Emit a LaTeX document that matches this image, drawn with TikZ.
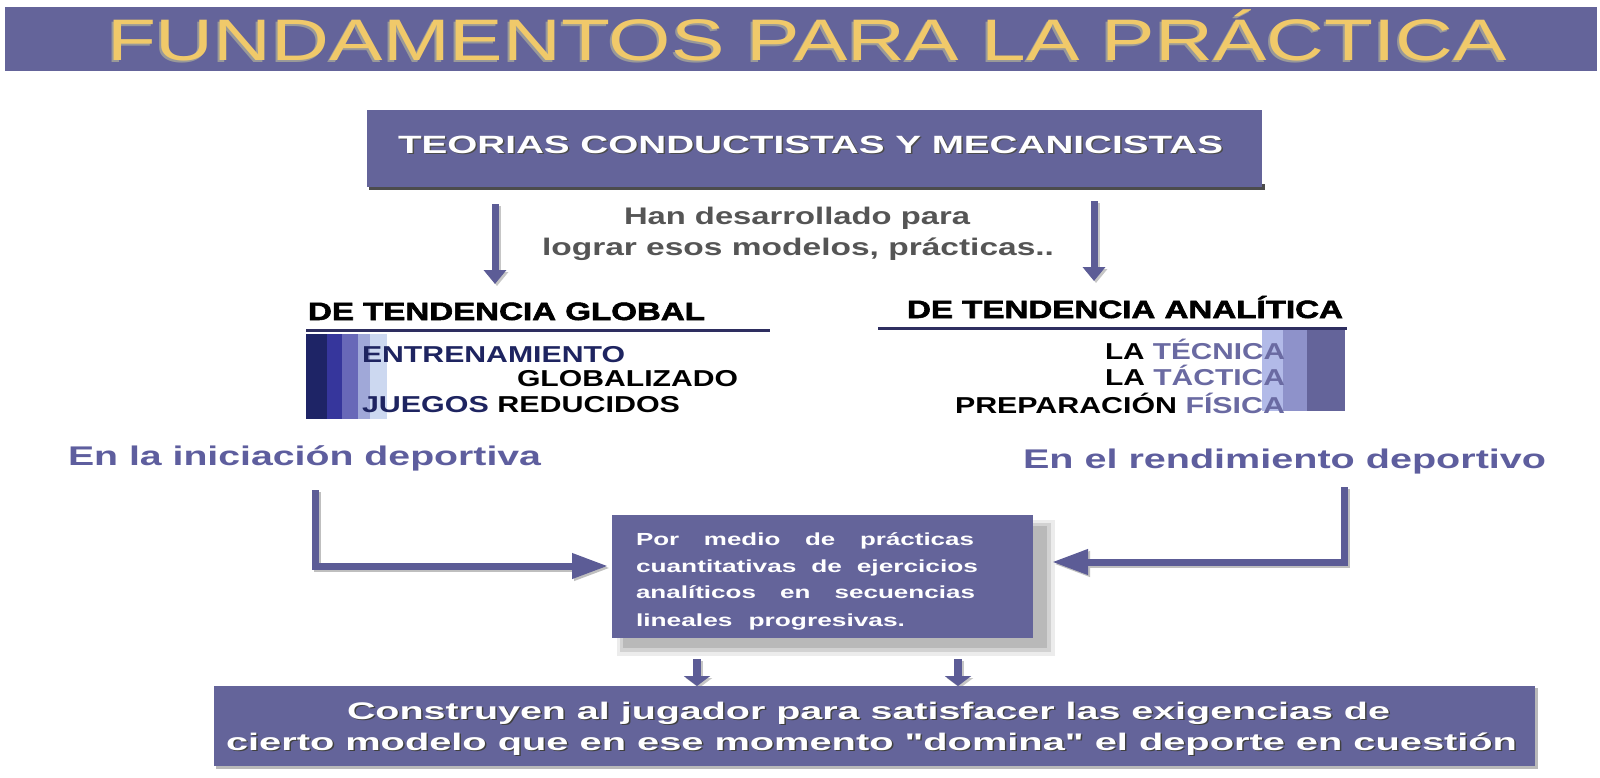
\documentclass[tikz,border=0pt]{standalone}
\usepackage{fontspec}
\setmainfont{Liberation Sans}
\newfontfamily\heavyfont{Liberation Sans}[BoldFeatures={FakeBold=2}]
\newfontfamily\qfont{Liberation Sans}[Ligatures=ResetAll]
\usepackage{graphicx}
\usetikzlibrary{arrows.meta}
\definecolor{slate}{HTML}{64649A}
\definecolor{arrowc}{HTML}{5C5C96}
\definecolor{titley}{HTML}{F0C96A}
\definecolor{lblue}{HTML}{5E5E9E}
\definecolor{hgrey}{HTML}{555555}
\definecolor{navy}{HTML}{1E2466}
\definecolor{navytxt}{HTML}{1E2460}
\definecolor{ruleblue}{HTML}{2E2E60}
\definecolor{softblue}{HTML}{6A6AA2}
\definecolor{gA}{RGB}{54,54,156}
\definecolor{gB}{RGB}{104,104,184}
\definecolor{gC}{RGB}{160,168,216}
\definecolor{gD}{RGB}{204,216,240}
\definecolor{rA}{RGB}{178,186,232}
\definecolor{rB}{RGB}{142,146,202}
\newcommand\fitw[2]{\resizebox{#1}{\height}{#2}}
\newcommand\sq{{\qfont\bfseries\symbol{34}}}
\begin{document}
\begin{tikzpicture}[x=1pt,y=-1pt,
  txt/.style={inner sep=0pt, outer sep=0pt, anchor=base west},
  txte/.style={inner sep=0pt, outer sep=0pt, anchor=base east},
  panel/.style={fill=slate, draw=none, inner sep=0pt, anchor=north west},
  arr/.style={draw=arrowc, line width=7pt, -{Triangle[length=14pt,width=22pt]}},
  arrshadow/.style={draw=gray!45, line width=7pt, -{Triangle[length=14pt,width=22pt]}},
  longarr/.style={draw=arrowc, line width=7pt, -{Triangle[length=36pt,width=24pt]}},
  longshadow/.style={draw=gray!50, line width=7pt, -{Triangle[length=36pt,width=24pt]}},
  stub/.style={draw=arrowc, line width=8pt, -{Triangle[length=10pt,width=26pt]}},
  stubshadow/.style={draw=gray!45, line width=8pt, -{Triangle[length=10pt,width=26pt]}}
]
\useasboundingbox (0,0) rectangle (1600,777);
\fill[white] (0,0) rectangle (1600,777);

% ---- title bar
\node[panel, minimum width=1592pt, minimum height=64pt] (titlebar) at (5,7) {};
\node[txt, text=gray!80] (titleshadow) at (105,62)
  {\fontsize{58.6}{60}\selectfont\fitw{1400pt}{FUNDAMENTOS PARA LA PRÁCTICA}};
\node[txt, text=titley] (title) at (107,60)
  {\fontsize{58.6}{60}\selectfont\fitw{1400pt}{FUNDAMENTOS PARA LA PRÁCTICA}};

% ---- teorias box
\fill[gray!60!black] (369,184) rectangle (1265,190);
\node[panel, minimum width=895pt, minimum height=77pt] (teorias) at (367,110) {};
\node[txt, text=black!70] (teoriasshadow) at (399.5,154.5)
  {\fontsize{25}{26}\selectfont\bfseries\fitw{825pt}{TEORIAS CONDUCTISTAS Y MECANICISTAS}};
\node[txt, text=white] (teoriastext) at (398,153)
  {\fontsize{25}{26}\selectfont\bfseries\fitw{825pt}{TEORIAS CONDUCTISTAS Y MECANICISTAS}};

% ---- arrows down from teorias
\coordinate (a1s) at (495,204); \coordinate (a1e) at (495,284);
\coordinate (a2s) at (1094,201); \coordinate (a2e) at (1094,281);
\coordinate (a1ss) at (497,206); \coordinate (a1es) at (497,286);
\coordinate (a2ss) at (1096,203); \coordinate (a2es) at (1096,283);
\draw[arrshadow] (a1ss) -- (a1es);
\draw[arrshadow] (a2ss) -- (a2es);
\draw[arr] (a1s) -- (a1e);
\draw[arr] (a2s) -- (a2e);

% ---- han desarrollado
\node[txt, text=hgrey] (han1) at (624,224)
  {\fontsize{24}{25}\selectfont\bfseries\fitw{346pt}{Han desarrollado para}};
\node[txt, text=hgrey] (han2) at (542,255)
  {\fontsize{24}{25}\selectfont\bfseries\fitw{512pt}{lograr esos modelos, prácticas..}};

% ---- left: de tendencia global
\node[txt, text=black] (globalh) at (308,320)
  {\fontsize{25}{26}\selectfont\heavyfont\bfseries\fitw{397pt}{DE TENDENCIA GLOBAL}};
\coordinate (gl1) at (306,330); \coordinate (gl2) at (770,330);
\draw[line width=3pt, ruleblue] (gl1) -- (gl2);
\fill[navy] (306,334) rectangle (327,419);
\fill[gA] (327,334) rectangle (342,419);
\fill[gB] (342,334) rectangle (358,419);
\fill[gC] (358,334) rectangle (370,419);
\fill[gD] (370,334) rectangle (387,419);
\node[txt, text=navytxt] (entr) at (362,362)
  {\fontsize{23}{24}\selectfont\bfseries\fitw{263pt}{ENTRENAMIENTO}};
\node[txt, text=black] (globz) at (517,386)
  {\fontsize{23}{24}\selectfont\bfseries\fitw{221pt}{GLOBALIZADO}};
\node[txt, text=black] (juegos) at (362,412)
  {\fontsize{23}{24}\selectfont\bfseries\fitw{318pt}{\textcolor{navytxt}{JUEGOS} REDUCIDOS}};

% ---- right: de tendencia analitica
\node[txt, text=black] (analh) at (907,318)
  {\fontsize{25}{26}\selectfont\heavyfont\bfseries\fitw{436pt}{DE TENDENCIA ANALÍTICA}};
\coordinate (ar1) at (878,328); \coordinate (ar2) at (1347,328);
\draw[line width=3pt, ruleblue] (ar1) -- (ar2);
\fill[rA] (1262,330) rectangle (1283,411);
\fill[rB] (1283,330) rectangle (1307,411);
\fill[slate] (1307,330) rectangle (1345,411);
\node[txte, text=black] (tecn) at (1285,359)
  {\fontsize{23}{24}\selectfont\bfseries\fitw{180pt}{LA \textcolor{softblue}{TÉCNICA}}};
\node[txte, text=black] (tact) at (1285,385)
  {\fontsize{23}{24}\selectfont\bfseries\fitw{180pt}{LA \textcolor{softblue}{TÁCTICA}}};
\node[txte, text=black] (prep) at (1285,413)
  {\fontsize{23}{24}\selectfont\bfseries\fitw{330pt}{PREPARACIÓN \textcolor{softblue}{FÍSICA}}};

% ---- blue labels
\node[txt, text=lblue] (inic) at (68,465)
  {\fontsize{27}{28}\selectfont\bfseries\fitw{473pt}{En la iniciación deportiva}};
\node[txt, text=lblue] (rend) at (1023,468)
  {\fontsize{27}{28}\selectfont\bfseries\fitw{523pt}{En el rendimiento deportivo}};

% ---- middle box with shadow
\fill[gray!15] (617,520) rectangle (1055,656);
\fill[gray!35] (620,523) rectangle (1051,652);
\fill[gray!55] (623,526) rectangle (1047,648);
\node[panel, minimum width=421pt, minimum height=123pt] (mid) at (612,515) {};
\node[txt, text=white] (m1) at (636,545)
  {\fontsize{17.5}{18}\selectfont\bfseries\fitw{338pt}{\makebox[228pt][s]{Por medio de prácticas}}};
\node[txt, text=white] (m2) at (636,572)
  {\fontsize{17.5}{18}\selectfont\bfseries\fitw{342pt}{\makebox[228pt][s]{cuantitativas de ejercicios}}};
\node[txt, text=white] (m3) at (636,598)
  {\fontsize{17.5}{18}\selectfont\bfseries\fitw{339pt}{\makebox[228pt][s]{analíticos en secuencias}}};
\node[txt, text=white] (m4) at (636,626)
  {\fontsize{17.5}{18}\selectfont\bfseries\fitw{269pt}{\makebox[179pt][s]{lineales progresivas.}}};

% ---- connectors to middle box
\coordinate (lc1) at (315,490); \coordinate (lc2) at (608,566);
\coordinate (lc1s) at (317,492); \coordinate (lc2s) at (610,568);
\coordinate (rc1) at (1344,487); \coordinate (rc2) at (1052,562);
\coordinate (rc1s) at (1346,489); \coordinate (rc2s) at (1054,564);
\draw[longshadow] (lc1s) |- (lc2s);
\draw[longshadow] (rc1s) |- (rc2s);
\draw[longarr] (lc1) |- (lc2);
\draw[longarr] (rc1) |- (rc2);

% ---- small arrows to bottom box
\coordinate (s1s) at (697,659); \coordinate (s1e) at (697,686);
\coordinate (s2s) at (958,659); \coordinate (s2e) at (958,686);
\coordinate (s1ss) at (699,661); \coordinate (s1es) at (699,688);
\coordinate (s2ss) at (960,661); \coordinate (s2es) at (960,688);
\draw[stubshadow] (s1ss) -- (s1es);
\draw[stubshadow] (s2ss) -- (s2es);
\draw[stub] (s1s) -- (s1e);
\draw[stub] (s2s) -- (s2e);

% ---- bottom box
\fill[gray!55] (216,688) rectangle (1538,769);
\node[panel, minimum width=1321pt, minimum height=80pt] (bottom) at (214,686) {};
\node[txt, text=black!75] (b1s) at (348.5,720.5)
  {\fontsize{24}{25}\selectfont\bfseries\fitw{1043pt}{Construyen al jugador para satisfacer las exigencias de}};
\node[txt, text=white] (b1) at (347,719)
  {\fontsize{24}{25}\selectfont\bfseries\fitw{1043pt}{Construyen al jugador para satisfacer las exigencias de}};
\node[txt, text=black!75] (b2s) at (227.5,751.5)
  {\fontsize{24}{25}\selectfont\bfseries\fitw{1291pt}{cierto modelo que en ese momento \sq domina\sq{} el deporte en cuestión}};
\node[txt, text=white] (b2) at (226,750)
  {\fontsize{24}{25}\selectfont\bfseries\fitw{1291pt}{cierto modelo que en ese momento \sq domina\sq{} el deporte en cuestión}};
\end{tikzpicture}
\end{document}
